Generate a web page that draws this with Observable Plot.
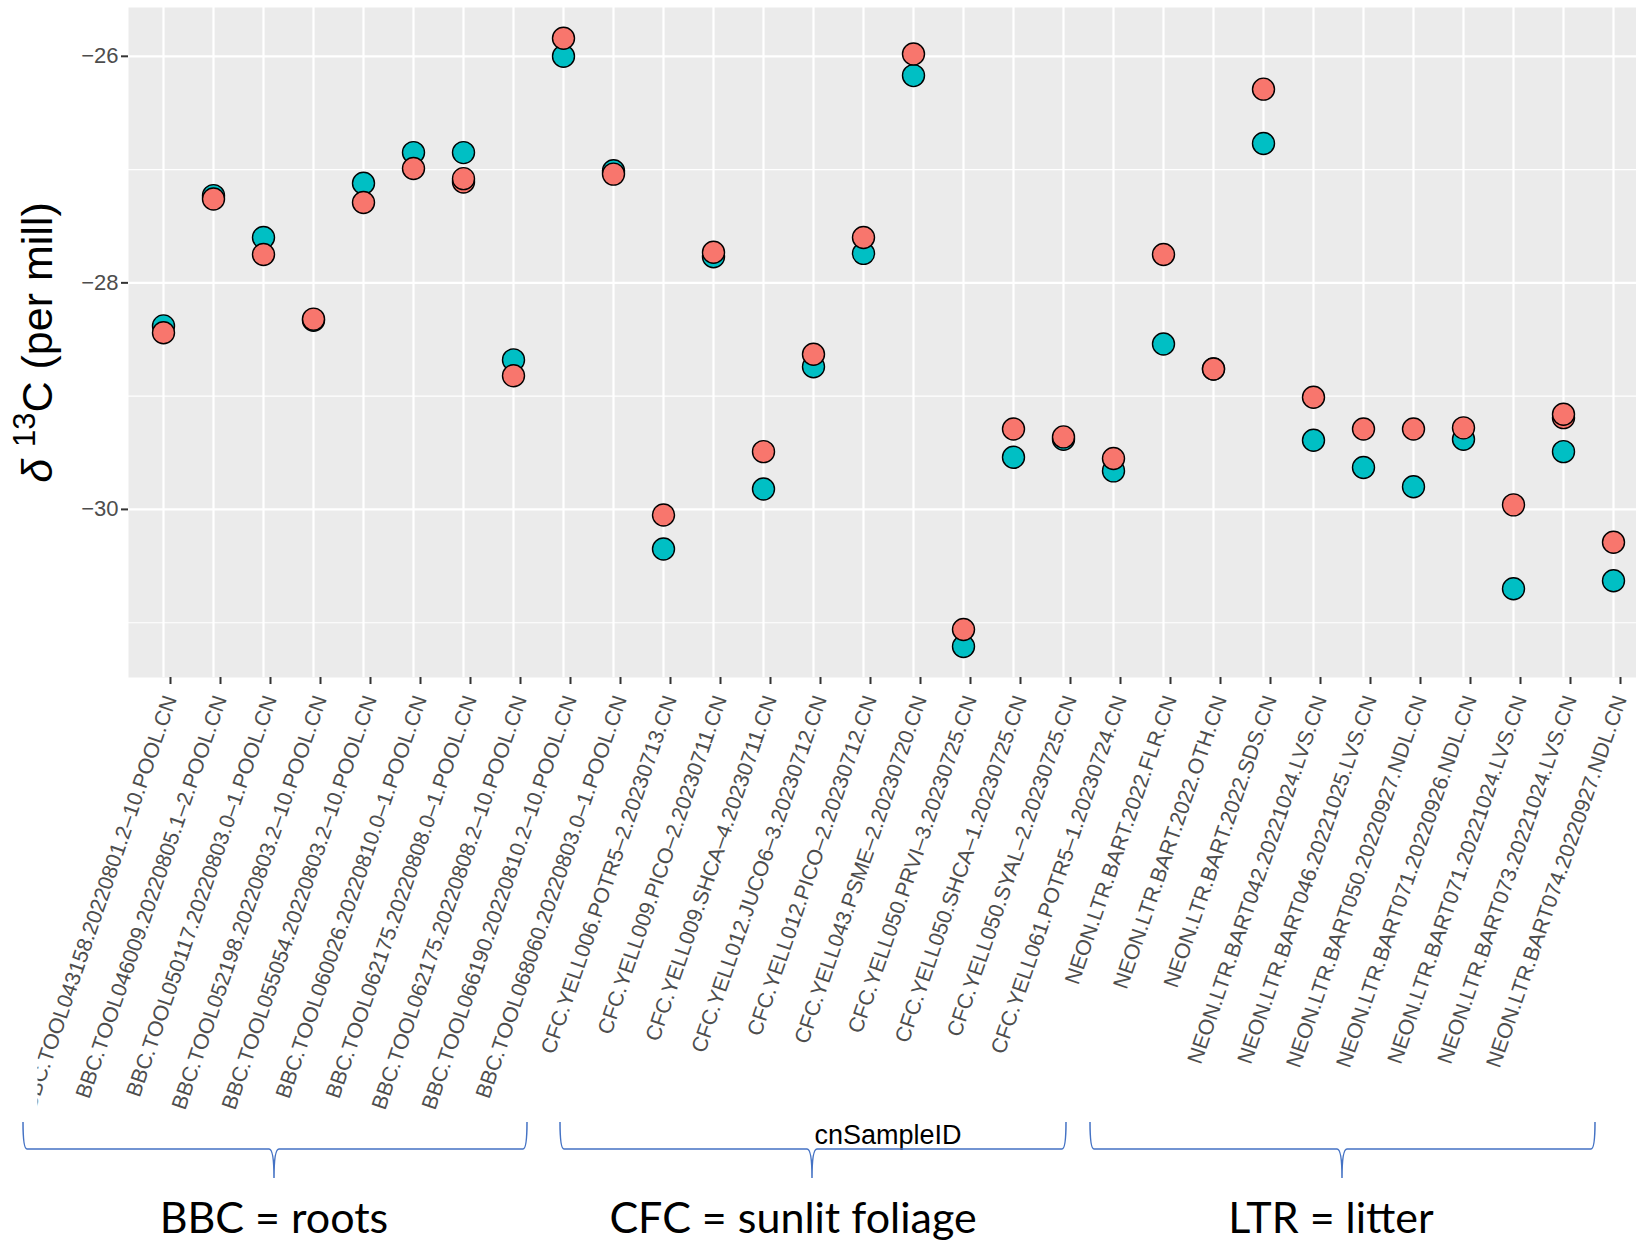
<!DOCTYPE html>
<html>
<head>
<meta charset="utf-8">
<script src="https://cdn.jsdelivr.net/npm/d3@7"></script>
<script src="https://cdn.jsdelivr.net/npm/@observablehq/plot@0.6"></script>
<style>
  html, body { margin: 0; padding: 0; background: white; overflow: hidden; }
  #wrap { position: relative; width: 1636px; height: 1241px; overflow: hidden; background: white; }
  #notes { position: absolute; left: 0; top: 0; pointer-events: none; }
</style>
</head>
<body>
<div id="wrap"></div>
<script>
// ---- data ----
const samples = [
  "BBC.TOOL043158.20220801.2–10.POOL.CN",
  "BBC.TOOL046009.20220805.1–2.POOL.CN",
  "BBC.TOOL050117.20220803.0–1.POOL.CN",
  "BBC.TOOL052198.20220803.2–10.POOL.CN",
  "BBC.TOOL055054.20220803.2–10.POOL.CN",
  "BBC.TOOL060026.20220810.0–1.POOL.CN",
  "BBC.TOOL062175.20220808.0–1.POOL.CN",
  "BBC.TOOL062175.20220808.2–10.POOL.CN",
  "BBC.TOOL066190.20220810.2–10.POOL.CN",
  "BBC.TOOL068060.20220803.0–1.POOL.CN",
  "CFC.YELL006.POTR5–2.20230713.CN",
  "CFC.YELL009.PICO–2.20230711.CN",
  "CFC.YELL009.SHCA–4.20230711.CN",
  "CFC.YELL012.JUCO6–3.20230712.CN",
  "CFC.YELL012.PICO–2.20230712.CN",
  "CFC.YELL043.PSME–2.20230720.CN",
  "CFC.YELL050.PRVI–3.20230725.CN",
  "CFC.YELL050.SHCA–1.20230725.CN",
  "CFC.YELL050.SYAL–2.20230725.CN",
  "CFC.YELL061.POTR5–1.20230724.CN",
  "NEON.LTR.BART.2022.FLR.CN",
  "NEON.LTR.BART.2022.OTH.CN",
  "NEON.LTR.BART.2022.SDS.CN",
  "NEON.LTR.BART042.20221024.LVS.CN",
  "NEON.LTR.BART046.20221025.LVS.CN",
  "NEON.LTR.BART050.20220927.NDL.CN",
  "NEON.LTR.BART071.20220926.NDL.CN",
  "NEON.LTR.BART071.20221024.LVS.CN",
  "NEON.LTR.BART073.20221024.LVS.CN",
  "NEON.LTR.BART074.20220927.NDL.CN"
];
// teal series (drawn first)
const tealValues = [
  -28.38, -27.23, -27.60, -28.33, -27.12, -26.85, -26.85, -28.68, -26.00, -27.01,
  -30.35, -27.77, -29.82, -28.74, -27.74, -26.17, -31.21, -29.54, -29.38, -29.66,
  -28.54, -28.76, -26.77, -29.39, -29.63, -29.80, -29.38, -30.70, -29.49, -30.63
];
// salmon series (drawn on top)
const redValues = [
  -28.44, -27.26, -27.75, -28.32, -27.29, -26.99, -27.08, -28.82, -25.84, -27.04,
  -30.05, -27.73, -29.49, -28.63, -27.60, -25.98, -31.06, -29.29, -29.36, -29.55,
  -27.75, -28.76, -26.29, -29.01, -29.29, -29.29, -29.28, -29.96, -29.16, -30.29
];
// duplicate salmon measurements hidden just under the main ones
const extraSamples = [samples[6], samples[28]];
const extraValues = [-27.11, -29.19];

const yTicksMajor = [-30, -28, -26];
const yTicksMinor = [-31, -29, -27];

const groups = ["BBC = roots", "CFC = sunlit foliage", "LTR = litter"];

// ---- tables ----
const teal = samples.map((s, i) => ({sample: s, value: tealValues[i]}));
const red = samples.map((s, i) => ({sample: s, value: redValues[i]}));
const extra = extraSamples.map((s, i) => ({sample: s, value: extraValues[i]}));

const TEAL = "#00BFC4", RED = "#F8766D";

const chart = Plot.plot({
  width: 1647,
  height: 1155,
  marginLeft: 128,
  marginRight: 0,
  marginTop: 7,
  marginBottom: 478,
  style: {fontFamily: "'Liberation Sans', Arial, sans-serif", fontSize: "21.6px", background: "white", maxWidth: "none"},
  x: {type: "point", domain: samples, padding: 0.6},
  y: {domain: [-31.484, -25.569]},
  marks: [
    Plot.frame({fill: "#EBEBEB", stroke: "none"}),
    Plot.gridY(yTicksMinor, {stroke: "white", strokeWidth: 1.1, strokeOpacity: 1}),
    Plot.gridY(yTicksMajor, {stroke: "white", strokeWidth: 2.2, strokeOpacity: 1}),
    Plot.gridX(samples, {stroke: "white", strokeWidth: 2.2, strokeOpacity: 1}),
    Plot.axisY(yTicksMajor, {tickSize: 7, tickPadding: 3, tickFormat: "d", fontSize: 22, fill: "#4D4D4D", stroke: "#333333", strokeWidth: 2, label: null}),
    Plot.axisY([], {label: "δ 13C (per mill)", labelAnchor: "center", labelOffset: 107, labelArrow: "none", fontSize: 43, fill: "black", tickSize: 0}),
    Plot.axisX(samples, {tickSize: 7, tickPadding: 12, dx: 7, tickRotate: -71, textAnchor: "end", lineAnchor: "middle",
      fontSize: 21.4, fill: "#4D4D4D", stroke: "#333333", strokeWidth: 2, label: null}),
    Plot.axisX([], {label: "cnSampleID", labelAnchor: "center", labelOffset: 466, labelArrow: "none", fontSize: 27, fill: "black", tickSize: 0}),
    Plot.dot(teal, {x: "sample", y: "value", r: 11, fill: TEAL, stroke: "black", strokeWidth: 1.4}),
    Plot.dot(extra, {x: "sample", y: "value", r: 11, fill: RED, stroke: "black", strokeWidth: 1.4}),
    Plot.dot(red, {x: "sample", y: "value", r: 11, fill: RED, stroke: "black", strokeWidth: 1.4})
  ]
});

document.getElementById("wrap").appendChild(chart);

const svg = d3.select(chart);
// clip rotated tick labels at the left edge of the original figure crop
const defs = svg.insert("defs", ":first-child");
defs.append("clipPath").attr("id", "lblclip")
  .append("rect").attr("x", 30).attr("y", 0).attr("width", 3000).attr("height", 3000);
svg.selectAll('g[aria-label="x-axis tick label"]').attr("clip-path", "url(#lblclip)");

// y title: italic delta and superscript 13
svg.selectAll('g[aria-label="y-axis label"] text').each(function () {
  const t = d3.select(this);
  t.text(null);
  t.append("tspan").attr("font-style", "italic").text("δ ");
  t.append("tspan").attr("font-size", "0.72em").attr("dy", "-0.55em").text("13");
  t.append("tspan").attr("dy", "0.396em").text("C (per mill)");
});

// ---- annotation braces and group captions (drawn over the figure) ----
const braceSpans = [[23, 274, 527], [560, 812, 1066], [1090, 1342, 1595]];
const captionCenters = [274, 793, 1331];
const notes = d3.select("#wrap").append("svg")
  .attr("id", "notes").attr("width", 1636).attr("height", 1241);
const yTop = 1122, yBar = 1149, yTip = 1178;
braceSpans.forEach(([a, m, b]) => {
  const r1 = 4, r2 = 5;
  const p = `M${a},${yTop} Q${a},${yBar} ${a + r1},${yBar} H${m - r2} Q${m},${yBar} ${m},${yTip} Q${m},${yBar} ${m + r2},${yBar} H${b - r1} Q${b},${yBar} ${b},${yTop}`;
  notes.append("path").attr("d", p).attr("fill", "none").attr("stroke", "#4472C4").attr("stroke-width", 1.5);
});
groups.forEach((g, i) => {
  notes.append("text").attr("x", captionCenters[i]).attr("y", 1233)
    .attr("text-anchor", "middle").attr("font-family", "Lato, 'Open Sans', sans-serif")
    .attr("font-size", 43).attr("fill", "black").text(g);
});
</script>
</body>
</html>
